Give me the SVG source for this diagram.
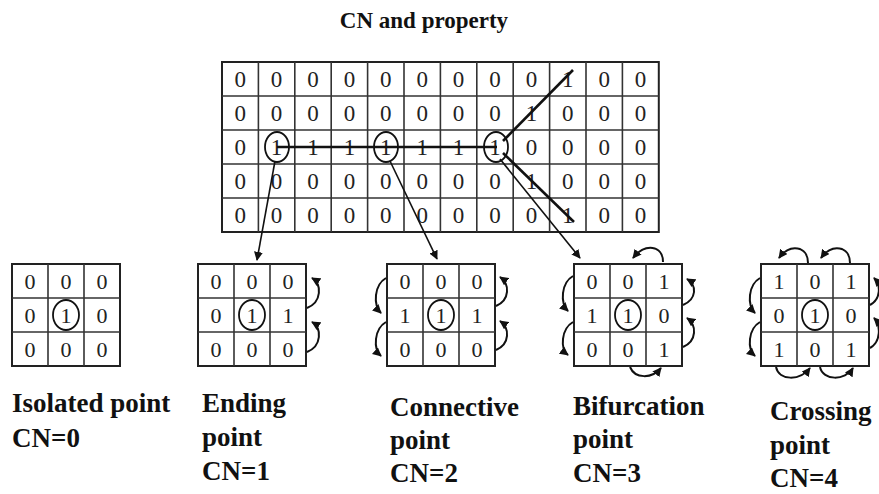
<svg xmlns="http://www.w3.org/2000/svg" width="879" height="494" viewBox="0 0 879 494">
<style>
.frame{fill:#fff;stroke:#222;stroke-width:2}
.gl{stroke:#333;stroke-width:1.6}
.d{font-family:"Liberation Serif","Times New Roman",serif;font-size:23px;text-anchor:middle;fill:#222}
.s{font-family:"Liberation Serif","Times New Roman",serif;font-size:22px;text-anchor:middle;fill:#222}
.ring{fill:none;stroke:#111;stroke-width:1.8}
.lbl{font-family:"Liberation Serif","Times New Roman",serif;font-size:27px;font-weight:bold;fill:#111}
.title{font-family:"Liberation Serif","Times New Roman",serif;font-size:23px;font-weight:bold;fill:#111;text-anchor:middle}
.thick{stroke:#111;stroke-width:2.6;fill:none}
.arr{stroke:#111;stroke-width:1.6;fill:none;marker-end:url(#ah)}
.arc{stroke:#111;stroke-width:2;fill:none;marker-end:url(#ah)}
</style>
<defs>
<marker id="ah" viewBox="0 0 10 10" refX="9" refY="5" markerWidth="9" markerHeight="9" markerUnits="userSpaceOnUse" orient="auto">
<path d="M0,0 L10,5 L0,10 z" fill="#111"/>
</marker>
</defs>
<rect width="879" height="494" fill="#fff"/>

<text class="title" x="424" y="28">CN and property</text>

<g id="main-grid">
<rect class="frame" x="222" y="62" width="436.8" height="170"/>
<g class="gl">
<line x1="258.4" y1="62" x2="258.4" y2="232"/><line x1="294.8" y1="62" x2="294.8" y2="232"/>
<line x1="331.2" y1="62" x2="331.2" y2="232"/><line x1="367.6" y1="62" x2="367.6" y2="232"/>
<line x1="404" y1="62" x2="404" y2="232"/><line x1="440.4" y1="62" x2="440.4" y2="232"/>
<line x1="476.8" y1="62" x2="476.8" y2="232"/><line x1="513.2" y1="62" x2="513.2" y2="232"/>
<line x1="549.6" y1="62" x2="549.6" y2="232"/><line x1="586" y1="62" x2="586" y2="232"/>
<line x1="622.4" y1="62" x2="622.4" y2="232"/>
<line x1="222" y1="96" x2="658.8" y2="96"/><line x1="222" y1="130" x2="658.8" y2="130"/>
<line x1="222" y1="164" x2="658.8" y2="164"/><line x1="222" y1="198" x2="658.8" y2="198"/>
</g>
<g class="d">
<text x="240.2" y="87">0</text><text x="276.6" y="87">0</text><text x="313" y="87">0</text><text x="349.4" y="87">0</text><text x="385.8" y="87">0</text><text x="422.2" y="87">0</text><text x="458.6" y="87">0</text><text x="495" y="87">0</text><text x="531.4" y="87">0</text><text x="567.8" y="87">1</text><text x="604.2" y="87">0</text><text x="640.6" y="87">0</text>
<text x="240.2" y="121">0</text><text x="276.6" y="121">0</text><text x="313" y="121">0</text><text x="349.4" y="121">0</text><text x="385.8" y="121">0</text><text x="422.2" y="121">0</text><text x="458.6" y="121">0</text><text x="495" y="121">0</text><text x="531.4" y="121">1</text><text x="567.8" y="121">0</text><text x="604.2" y="121">0</text><text x="640.6" y="121">0</text>
<text x="240.2" y="155">0</text><text x="276.6" y="155">1</text><text x="313" y="155">1</text><text x="349.4" y="155">1</text><text x="385.8" y="155">1</text><text x="422.2" y="155">1</text><text x="458.6" y="155">1</text><text x="495" y="155">1</text><text x="531.4" y="155">0</text><text x="567.8" y="155">0</text><text x="604.2" y="155">0</text><text x="640.6" y="155">0</text>
<text x="240.2" y="189">0</text><text x="276.6" y="189">0</text><text x="313" y="189">0</text><text x="349.4" y="189">0</text><text x="385.8" y="189">0</text><text x="422.2" y="189">0</text><text x="458.6" y="189">0</text><text x="495" y="189">0</text><text x="531.4" y="189">1</text><text x="567.8" y="189">0</text><text x="604.2" y="189">0</text><text x="640.6" y="189">0</text>
<text x="240.2" y="223">0</text><text x="276.6" y="223">0</text><text x="313" y="223">0</text><text x="349.4" y="223">0</text><text x="385.8" y="223">0</text><text x="422.2" y="223">0</text><text x="458.6" y="223">0</text><text x="495" y="223">0</text><text x="531.4" y="223">0</text><text x="567.8" y="223">1</text><text x="604.2" y="223">0</text><text x="640.6" y="223">0</text>
</g>
<ellipse class="ring" cx="277" cy="147" rx="12" ry="15"/>
<ellipse class="ring" cx="386" cy="147" rx="12" ry="15"/>
<ellipse class="ring" cx="496" cy="147" rx="12" ry="15"/>
</g>

<g id="isolated">
<rect class="frame" x="12" y="264" width="108" height="102"/>
<g class="gl"><line x1="48" y1="264" x2="48" y2="366"/><line x1="84" y1="264" x2="84" y2="366"/><line x1="12" y1="298" x2="120" y2="298"/><line x1="12" y1="332" x2="120" y2="332"/></g>
<g class="s">
<text x="30" y="288.5">0</text><text x="66" y="288.5">0</text><text x="102" y="288.5">0</text>
<text x="30" y="322.5">0</text><text x="66" y="322.5">1</text><text x="102" y="322.5">0</text>
<text x="30" y="356.5">0</text><text x="66" y="356.5">0</text><text x="102" y="356.5">0</text>
</g>
<ellipse class="ring" cx="66" cy="315" rx="13" ry="15"/>
<text class="lbl" x="12" y="412">Isolated point</text>
<text class="lbl" x="12" y="447">CN=0</text>
</g>

<g id="ending">
<rect class="frame" x="198" y="264" width="108" height="102"/>
<g class="gl"><line x1="234" y1="264" x2="234" y2="366"/><line x1="270" y1="264" x2="270" y2="366"/><line x1="198" y1="298" x2="306" y2="298"/><line x1="198" y1="332" x2="306" y2="332"/></g>
<g class="s">
<text x="216" y="288.5">0</text><text x="252" y="288.5">0</text><text x="288" y="288.5">0</text>
<text x="216" y="322.5">0</text><text x="252" y="322.5">1</text><text x="288" y="322.5">1</text>
<text x="216" y="356.5">0</text><text x="252" y="356.5">0</text><text x="288" y="356.5">0</text>
</g>
<ellipse class="ring" cx="252" cy="315" rx="13" ry="15"/>
<text class="lbl" x="202" y="412">Ending</text>
<text class="lbl" x="202" y="446">point</text>
<text class="lbl" x="202" y="480">CN=1</text>
</g>

<g id="connective">
<rect class="frame" x="387" y="264" width="108" height="102"/>
<g class="gl"><line x1="423" y1="264" x2="423" y2="366"/><line x1="459" y1="264" x2="459" y2="366"/><line x1="387" y1="298" x2="495" y2="298"/><line x1="387" y1="332" x2="495" y2="332"/></g>
<g class="s">
<text x="405" y="288.5">0</text><text x="441" y="288.5">0</text><text x="477" y="288.5">0</text>
<text x="405" y="322.5">1</text><text x="441" y="322.5">1</text><text x="477" y="322.5">1</text>
<text x="405" y="356.5">0</text><text x="441" y="356.5">0</text><text x="477" y="356.5">0</text>
</g>
<ellipse class="ring" cx="441" cy="315" rx="13" ry="15"/>
<text class="lbl" x="390" y="416">Connective</text>
<text class="lbl" x="390" y="449">point</text>
<text class="lbl" x="390" y="482">CN=2</text>
</g>

<g id="bifurcation">
<rect class="frame" x="574" y="264" width="108" height="102"/>
<g class="gl"><line x1="610" y1="264" x2="610" y2="366"/><line x1="646" y1="264" x2="646" y2="366"/><line x1="574" y1="298" x2="682" y2="298"/><line x1="574" y1="332" x2="682" y2="332"/></g>
<g class="s">
<text x="592" y="288.5">0</text><text x="628" y="288.5">0</text><text x="664" y="288.5">1</text>
<text x="592" y="322.5">1</text><text x="628" y="322.5">1</text><text x="664" y="322.5">0</text>
<text x="592" y="356.5">0</text><text x="628" y="356.5">0</text><text x="664" y="356.5">1</text>
</g>
<ellipse class="ring" cx="628" cy="315" rx="13" ry="15"/>
<text class="lbl" x="573" y="415">Bifurcation</text>
<text class="lbl" x="573" y="448">point</text>
<text class="lbl" x="573" y="482">CN=3</text>
</g>

<g id="crossing">
<rect class="frame" x="761" y="264" width="108" height="102"/>
<g class="gl"><line x1="797" y1="264" x2="797" y2="366"/><line x1="833" y1="264" x2="833" y2="366"/><line x1="761" y1="298" x2="869" y2="298"/><line x1="761" y1="332" x2="869" y2="332"/></g>
<g class="s">
<text x="779" y="288.5">1</text><text x="815" y="288.5">0</text><text x="851" y="288.5">1</text>
<text x="779" y="322.5">0</text><text x="815" y="322.5">1</text><text x="851" y="322.5">0</text>
<text x="779" y="356.5">1</text><text x="815" y="356.5">0</text><text x="851" y="356.5">1</text>
</g>
<ellipse class="ring" cx="815" cy="315" rx="13" ry="15"/>
<text class="lbl" x="770" y="420">Crossing</text>
<text class="lbl" x="770" y="454">point</text>
<text class="lbl" x="770" y="487">CN=4</text>
</g>

<g id="connectors">
<path class="thick" d="M277,147 L497,147"/>
<path class="thick" d="M503,141 L573,70"/>
<path class="thick" d="M503,153 L574,222"/>
<path class="arr" d="M500,159 L580,258"/>
<path class="arr" d="M275,161 L257,260"/>
<path class="arr" d="M390,161 L437,259"/>

<path class="arc" d="M307,308 C322,302 322,284 312,278"/>
<path class="arc" d="M307,352 C322,346 322,328 312,322"/>

<path class="arc" d="M496,306 C510,300 510,284 500,277"/>
<path class="arc" d="M496,350 C510,344 510,328 500,321"/>
<path class="arc" d="M386,278 C374,285 373,305 381,313"/>
<path class="arc" d="M386,322 C374,329 373,349 381,356"/>

<path class="arc" d="M573,276 C561,283 560,303 568,311"/>
<path class="arc" d="M573,322 C561,329 560,349 568,355"/>
<path class="arc" d="M683,305 C697,299 697,285 687,279"/>
<path class="arc" d="M683,347 C697,341 697,325 687,318"/>
<path class="arc" d="M663,262 C663,245 645,243 633,258"/>
<path class="arc" d="M630,367 C635,379 652,379 661,368"/>

<path class="arc" d="M760,278 C748,285 747,305 755,313"/>
<path class="arc" d="M760,322 C748,329 747,349 755,356"/>
<path class="arc" d="M870,305 C881,299 881,285 874,278"/>
<path class="arc" d="M870,348 C881,342 881,325 874,318"/>
<path class="arc" d="M808,263 C808,246 790,243 779,258"/>
<path class="arc" d="M850,263 C850,246 832,243 821,258"/>
<path class="arc" d="M776,367 C779,381 800,381 810,368"/>
<path class="arc" d="M820,367 C823,381 845,381 853,368"/>
</g>
</svg>
